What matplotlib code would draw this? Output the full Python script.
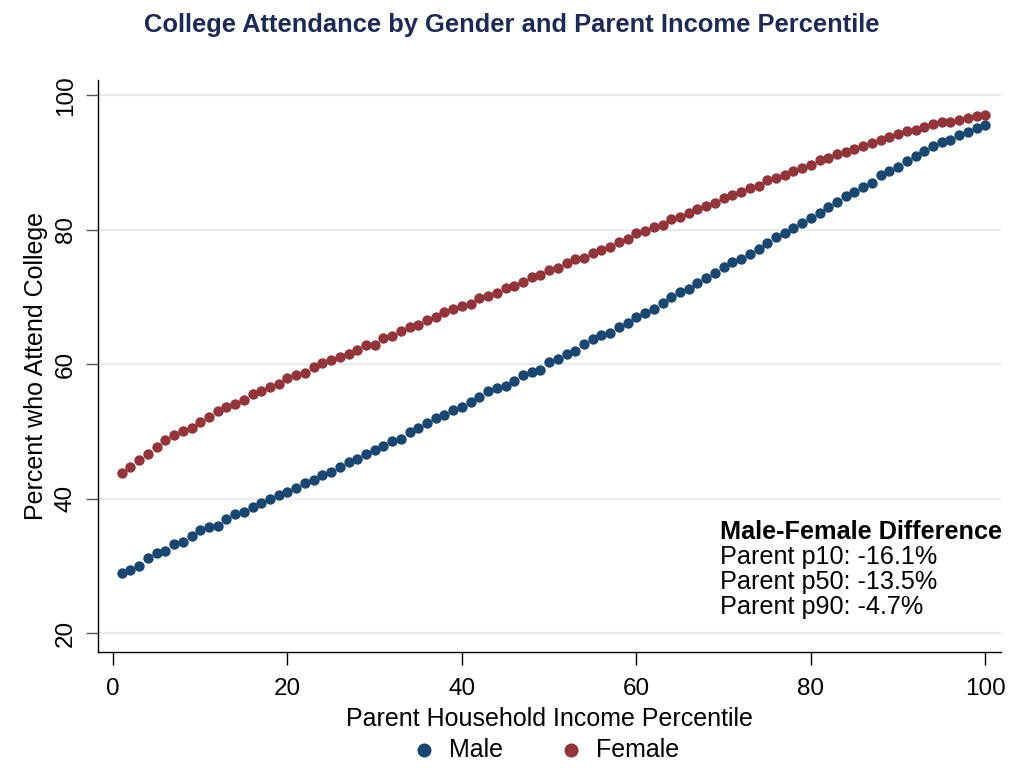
import numpy as np
import matplotlib
matplotlib.use("Agg")
import matplotlib.pyplot as plt

plt.rcParams['font.family'] = ['Liberation Sans', 'DejaVu Sans']

# parent income percentile 1..100
pctile = np.arange(1, 101)

# college attendance
male = [28.94, 29.43, 30.08, 31.17, 31.87, 32.31, 33.25, 33.65, 34.44, 35.29,
        35.83, 35.98, 37.02, 37.67, 38.11, 38.81, 39.31, 40.00, 40.55, 40.99,
        41.54, 42.28, 42.83, 43.57, 44.02, 44.76, 45.51, 45.90, 46.60, 47.19,
        47.84, 48.53, 48.83, 49.87, 50.52, 51.30, 52.05, 52.45, 53.20, 53.70,
        54.40, 55.15, 56.00, 56.50, 56.85, 57.55, 58.45, 58.85, 59.20, 60.30,
        60.85, 61.60, 62.05, 63.05, 63.70, 64.30, 64.65, 65.60, 66.15, 67.00,
        67.60, 68.30, 69.15, 70.00, 70.81, 71.26, 72.10, 72.79, 73.53, 74.42,
        75.16, 75.60, 76.40, 77.23, 78.07, 78.96, 79.51, 80.30, 81.09, 81.73,
        82.52, 83.36, 84.15, 84.99, 85.58, 86.37, 86.96, 88.10, 88.74, 89.38,
        90.27, 91.06, 91.80, 92.44, 93.09, 93.43, 94.12, 94.52, 95.16, 95.56]

female = [43.78, 44.77, 45.81, 46.66, 47.65, 48.69, 49.43, 50.08, 50.58, 51.42,
          52.16, 53.01, 53.70, 54.15, 54.74, 55.59, 55.98, 56.63, 57.07, 58.02,
          58.36, 58.66, 59.55, 60.20, 60.69, 61.09, 61.49, 62.18, 62.83, 62.93,
          63.97, 64.17, 64.96, 65.51, 65.85, 66.60, 67.00, 67.80, 68.25, 68.70,
          69.00, 69.85, 70.15, 70.60, 71.40, 71.60, 72.25, 73.00, 73.35, 74.00,
          74.35, 75.10, 75.60, 75.80, 76.55, 76.95, 77.50, 78.25, 78.65, 79.55,
          79.90, 80.40, 80.80, 81.55, 81.93, 82.47, 83.06, 83.56, 84.05, 84.79,
          85.23, 85.63, 86.22, 86.57, 87.36, 87.70, 88.15, 88.79, 89.23, 89.68,
          90.37, 90.72, 91.36, 91.56, 92.10, 92.44, 92.94, 93.38, 93.78, 94.22,
          94.67, 94.91, 95.31, 95.80, 96.00, 96.10, 96.40, 96.59, 96.99, 97.04]

diff_labels = ["Parent p10: -16.1%", "Parent p50: -13.5%", "Parent p90: -4.7%"]

navy = "#1a476f"
maroon = "#90353b"

fig = plt.figure(figsize=(10.24, 7.68), dpi=100)
ax = fig.add_axes([97.5/1024, 1-651.7/768, (1001-97.5)/1024, (651.7-80)/768])

ax.scatter(pctile, male, s=56, color=navy, label="Male", zorder=3, linewidths=0)
ax.scatter(pctile, female, s=56, color=maroon, label="Female", zorder=3, linewidths=0)

ax.set_xlim(-1.78, 101.8)
ax.set_ylim(17.26, 102.3)
ax.set_xticks([0, 20, 40, 60, 80, 100])
ax.set_yticks([20, 40, 60, 80, 100])
ax.grid(axis='y', color='#e8ecee', linewidth=1.6, zorder=0)
ax.set_axisbelow(True)

for s in ['top', 'right']:
    ax.spines[s].set_visible(False)
ax.spines['left'].set_linewidth(1.0)
ax.spines['bottom'].set_linewidth(1.0)

ax.tick_params(axis='x', length=9, width=1, labelsize=17.5, pad=10)
ax.tick_params(axis='y', length=9, width=1, color='#555555', labelsize=17.5, pad=6)
for lab in ax.get_yticklabels():
    lab.set_rotation(90)
    lab.set_va('center')

ax.set_xlabel("Parent Household Income Percentile", fontsize=18, labelpad=5)
ax.set_ylabel("Percent who Attend College", fontsize=18, labelpad=5)

fig.text(512/1024, 1-25/768, "College Attendance by Gender and Parent Income Percentile",
         ha='center', va='center', fontsize=18.4, fontweight='bold', color='#1f2a52')

# difference annotation
fig.text(720/1024, 1-532/768, "Male-Female Difference", ha='left', va='center',
         fontsize=18.2, fontweight='bold')
for i, t in enumerate(diff_labels):
    fig.text(720/1024, 1-(557+25*i)/768, t, ha='left', va='center', fontsize=18.2)

fig.legend(loc='center', bbox_to_anchor=(539/1024, 1-750/768), ncol=2,
           frameon=False, fontsize=18, handletextpad=0.0, columnspacing=1.7,
           markerscale=1.35)

fig.savefig("out.png", dpi=100)
